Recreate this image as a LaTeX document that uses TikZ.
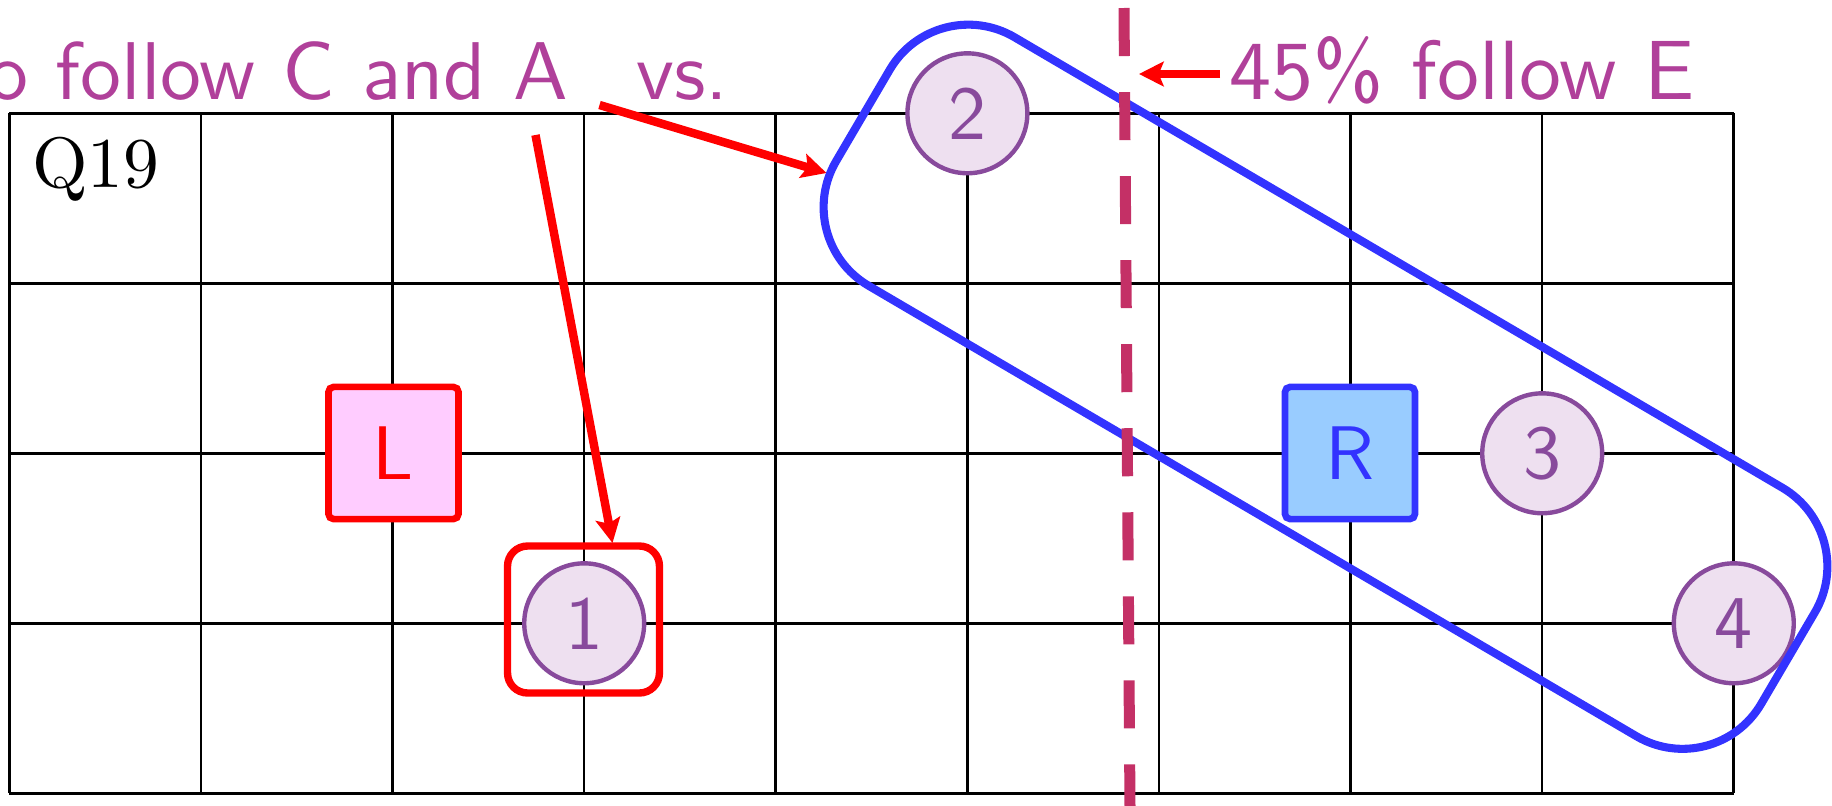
\documentclass[tikz,border=0pt]{standalone}
\usepackage{fontspec}
\setmainfont{lmroman10-regular.otf}
\setsansfont{lmsans10-regular.otf}
\usetikzlibrary{arrows.meta}
\definecolor{ttl}{RGB}{176,64,154}
\definecolor{cfill}{RGB}{238,224,240}
\definecolor{cline}{RGB}{136,74,156}
\definecolor{lfill}{RGB}{255,204,255}
\definecolor{rfill}{RGB}{153,204,255}
\definecolor{bblue}{RGB}{51,51,255}
\definecolor{dcrim}{RGB}{196,48,102}
\begin{document}
\begin{tikzpicture}[x=0.01cm,y=-0.01cm,
  gridline/.style={line width=0.72pt, black},
  dot/.style={circle, draw=cline, fill=cfill, line width=1.25pt, minimum size=34.1pt, inner sep=0pt, text=cline, font=\sffamily\fontsize{21.6}{24}\selectfont},
  sqbox/.style={rectangle, line width=1.9pt, rounded corners=1.5pt, minimum width=37pt, minimum height=37.6pt, inner sep=0pt, font=\sffamily\fontsize{21.6}{24}\selectfont},
  ttltext/.style={text=ttl, inner sep=0pt, font=\sffamily\fontsize{23.3}{26}\selectfont},
  redarrow/.style={red, line width=2.4pt, -{Stealth[length=7pt,width=7pt,inset=1.4pt]}}
]
\useasboundingbox (0,0) rectangle (1832,806);
% grid
\foreach \i in {0,...,9} \draw[gridline] (9.3+\i*191.6,113.3) -- (9.3+\i*191.6,793.4);
\foreach \j in {0,...,4} \draw[gridline] (9.3,113.3+\j*170.02) -- (1733.8,113.3+\j*170.02);
% Q19
\node[anchor=base west, inner sep=0pt, font=\fontsize{20.3}{24}\selectfont] (q) at (31.5,187) {Q19};
% L and R
\node[sqbox, draw=red, fill=lfill, text=red] (L) at (393.5,453) {L};
\node[sqbox, draw=bblue, fill=rfill, text=bblue] (R) at (1350,453) {R};
% circles
\node[dot] (c1) at (584.2,623.3) {1};
\node[dot] (c2) at (967.4,113.3) {2};
\node[dot] (c3) at (1542.2,453.3) {3};
\node[dot] (c4) at (1733.8,623.3) {4};
% red box around 1
\node[draw=red, line width=2.1pt, rounded corners=5.7pt, minimum width=43.2pt, minimum height=41.8pt, inner sep=0pt] (b1) at (583.5,619.5) {};
% blue group
\node[draw=bblue, line width=2.3pt, rounded corners=25.9pt, minimum width=305pt, minimum height=81.95pt, rotate=-30.4, inner sep=0pt] (grp) at (1325.5,386.75) {};
% dashed divider
\coordinate (dtop) at (1124,8);
\coordinate (dbot) at (1130,806);
\draw[dcrim, line width=3.13pt, dash pattern=on 13.66pt off 10.24pt] (dtop) -- (dbot);
% texts
\node[ttltext, anchor=base east] (tA) at (569,99) {who follow C and A};
\node[ttltext, anchor=base west] (tvs) at (636,99) {vs.};
\node[ttltext, anchor=base west, font=\sffamily\fontsize{23.9}{26}\selectfont] (tE) at (1229,99) {45\% follow E};
% arrows
\coordinate (a1s) at (535.5,135);
\coordinate (a1e) at (612.5,543);
\coordinate (a2s) at (599.5,105);
\coordinate (a2e) at (826.5,173);
\coordinate (a3s) at (1220,74);
\coordinate (a3e) at (1139,74);
\draw[redarrow] (a1s) -- (a1e);
\draw[redarrow] (a2s) -- (a2e);
\draw[redarrow] (a3s) -- (a3e);
\end{tikzpicture}
\end{document}
